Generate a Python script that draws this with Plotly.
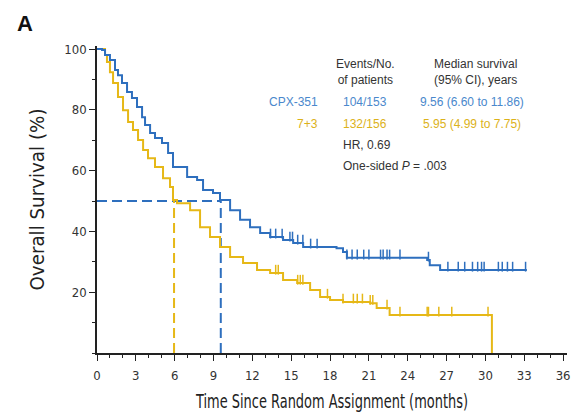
import numpy as np
import plotly.graph_objects as go

# ---- data ----
cpx_time = [0, 0.39, 0.62, 1.0, 1.39, 1.62, 1.93, 2.32, 2.70, 3.09, 3.48, 3.71, 4.10, 4.48, 5.02,
            5.49, 5.87, 6.96, 7.73, 8.19, 8.96, 9.5, 10.28, 11.05, 11.82, 12.6, 13.37, 14.37,
            15.15, 15.92, 18.5, 19.0, 19.3, 25.5, 25.7, 26.5, 33.2]
cpx_surv = [100, 99.7, 98.0, 96.4, 93.1, 91.4, 88.8, 85.9, 83.9, 80.9, 77.6, 75.0, 72.4, 70.7, 69.1,
            65.8, 61.2, 57.9, 56.9, 53.6, 52.6, 50.3, 47.0, 43.8, 41.4, 39.5, 38.2, 37.2,
            36.2, 34.9, 34.5, 33.2, 31.3, 30.6, 28.9, 27.3, 27.3]
cpx_censor = [13.4, 13.8, 14.3, 14.9, 15.1, 15.5, 15.9, 16.5, 17.0, 19.3, 19.7, 20.1, 20.6, 21.0,
              21.9, 22.1, 22.4, 22.6, 23.4, 25.6, 27.1, 27.9, 28.4, 29.0, 29.4, 29.7, 29.9,
              31.0, 31.3, 31.7, 32.1, 33.1]

std_time = [0, 0.62, 0.77, 1.0, 1.24, 1.62, 2.01, 2.40, 2.78, 3.17, 3.56, 3.94, 4.48, 5.1, 5.64,
            5.87, 6.18, 7.19, 7.96, 8.73, 9.5, 10.28, 11.28, 12.36, 13.37, 14.37, 15.46, 16.46,
            17.23, 18.0, 19.0, 21.1, 21.6, 22.6, 30.5, 30.5]
std_surv = [100, 98.0, 95.7, 92.4, 88.8, 84.2, 79.9, 76.0, 73.4, 70.1, 66.8, 64.1, 61.2, 57.5, 54.6,
            50.3, 49.3, 47.0, 41.4, 38.2, 34.9, 31.6, 29.6, 27.3, 26.3, 24.0, 23.0, 20.7,
            18.4, 17.4, 16.8, 16.4, 14.8, 12.5, 12.5, 0]
std_censor = [13.8, 14.0, 15.5, 15.7, 15.9, 17.8, 19.0, 19.8, 20.1, 20.5, 21.1, 21.3, 22.4, 23.4,
              25.5, 25.6, 26.4, 27.4, 30.2]

medians = [9.56, 5.95]
groups = ["CPX-351", "7+3"]
events = ["104/153", "132/156"]
median_ci = ["9.56 (6.60 to 11.86)", "5.95 (4.99 to 7.75)"]

BLUE = "#2e6fbe"
YELLOW = "#e6b817"
BLUE_T = "#4a88cc"
YELLOW_T = "#dcb21a"
AX = "#222222"


def step_at(times, surv, t):
    idx = np.searchsorted(np.array(times), t, side="right") - 1
    return np.array(surv)[idx]


fig = go.Figure()

# median reference lines
fig.add_trace(go.Scatter(x=[0, medians[0]], y=[50, 50], mode="lines",
                         line=dict(color=BLUE, width=2, dash="10px,5px"), showlegend=False))
fig.add_trace(go.Scatter(x=[medians[0], medians[0]], y=[0, 50], mode="lines",
                         line=dict(color=BLUE, width=2, dash="10px,5px"), showlegend=False))
fig.add_trace(go.Scatter(x=[medians[1], medians[1]], y=[0, 50], mode="lines",
                         line=dict(color=YELLOW, width=2, dash="10px,5px"), showlegend=False))

# KM curves
fig.add_trace(go.Scatter(x=std_time, y=std_surv, mode="lines", line_shape="hv",
                         line=dict(color=YELLOW, width=2), showlegend=False))
fig.add_trace(go.Scatter(x=cpx_time, y=cpx_surv, mode="lines", line_shape="hv",
                         line=dict(color=BLUE, width=2), showlegend=False))

# censor ticks
for times, surv, cens, col in [(cpx_time, cpx_surv, cpx_censor, BLUE),
                               (std_time, std_surv, std_censor, YELLOW)]:
    yv = step_at(times, surv, np.array(cens)) + 1.1
    fig.add_trace(go.Scatter(x=cens, y=yv, mode="markers",
                             marker=dict(symbol="line-ns", size=7,
                                         line=dict(color=col, width=1.5)),
                             showlegend=False))

font_ax = "DejaVu Sans Condensed, Liberation Sans Narrow, Roboto"
font_txt = "Liberation Sans, Arial, Helvetica"

fig.update_xaxes(range=[0, 36.3], tickmode="array", tickvals=list(range(0, 37, 3)),
                 ticks="outside", ticklen=6, tickwidth=1.3, tickcolor=AX, ticklabelstandoff=4,
                 showline=True, linecolor=AX, linewidth=1.6, showgrid=False, zeroline=False,
                 automargin=False,
                 minor=dict(dtick=1, tick0=0, ticks="outside", ticklen=3, tickcolor=AX, tickwidth=1.2, showgrid=False),
                 tickfont=dict(family=font_ax, size=13, color="#333333"),
                 title=dict(text="Time Since Random Assignment (months)",
                            font=dict(family=font_ax, size=19, color="#222222"),
                            standoff=12))
fig.update_yaxes(range=[0, 101], tickmode="array", tickvals=[20, 40, 60, 80, 100],
                 ticks="outside", ticklen=6, tickwidth=1.3, tickcolor=AX,
                 showline=True, linecolor=AX, linewidth=1.6, showgrid=False, zeroline=False,
                 automargin=False,
                 minor=dict(dtick=10, tick0=0, ticks="outside", ticklen=3, tickcolor=AX, tickwidth=1.2, showgrid=False),
                 tickfont=dict(family=font_ax, size=13, color="#333333"),
                 title=dict(text="Overall Survival (%)",
                            font=dict(family=font_ax, size=19, color="#222222"),
                            standoff=15))

ann = []
def A(text, x, y, xa="left", color="#333333", size=12):
    ann.append(dict(text=text, x=x, y=y, xref="x", yref="y", xanchor=xa, yanchor="middle",
                    showarrow=False, font=dict(family=font_txt, size=size, color=color)))

A("Events/No.<br>of patients", 20.7, 92.4, "center")
A("Median survival<br>(95% CI), years", 29.2, 92.4, "center")
A(groups[0], 17.25, 82.6, "right", BLUE_T)
A(groups[1], 17.25, 75.3, "right", YELLOW_T)
A(events[0], 18.85, 82.6, "left", BLUE_T)
A(events[1], 18.85, 75.3, "left", YELLOW_T)
A(median_ci[0], 29.0, 82.6, "center", BLUE_T)
A(median_ci[1], 29.0, 75.3, "center", YELLOW_T)
A("HR, 0.69", 18.85, 68.4, "left")
A("One-sided <i>P</i> = .003", 18.85, 61.5, "left")

ann.append(dict(text="<b>A</b>", xref="paper", yref="paper", x=-0.174, y=1.072,
                xanchor="left", yanchor="middle", showarrow=False,
                font=dict(family="Liberation Sans, Arial", size=22, color="#111111")))

fig.update_layout(width=578, height=413, margin=dict(l=97, r=11, t=46, b=60),
                  paper_bgcolor="white", plot_bgcolor="white", annotations=ann)

post = """
var gd = document.getElementById('{plot_id}');
function squeeze(sel, len) {
  var t = gd.querySelector(sel);
  if (t) { t.setAttribute('textLength', len); t.setAttribute('lengthAdjust', 'spacingAndGlyphs'); }
}
squeeze('.xtitle', '272');
squeeze('.ytitle', '182');
"""
fig.write_html("out.html", post_script=post)
